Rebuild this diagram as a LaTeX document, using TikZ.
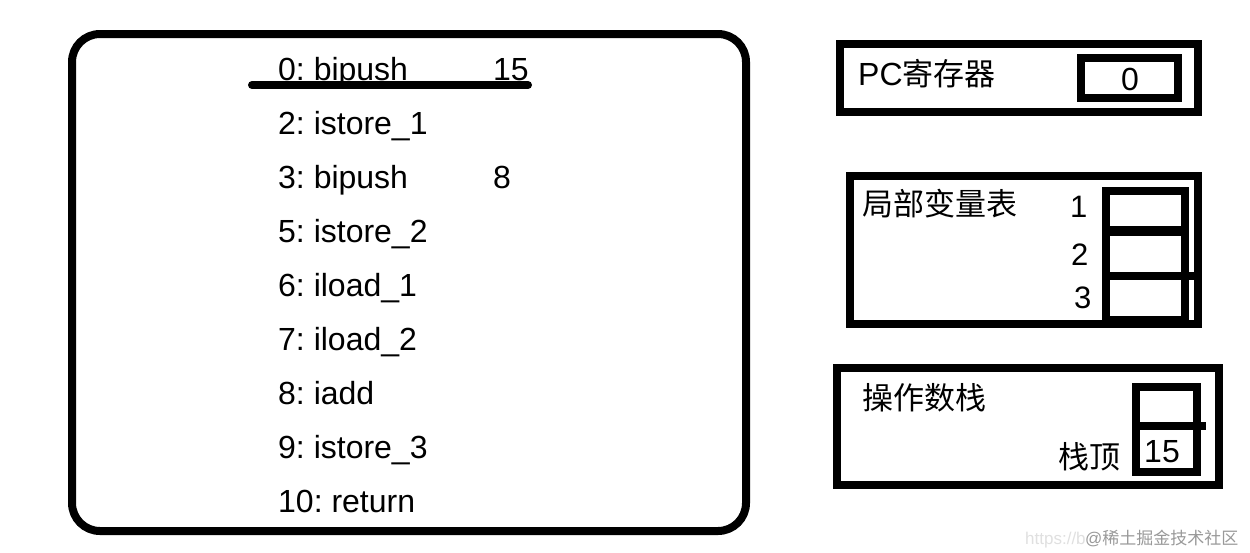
\documentclass[tikz,border=0pt]{standalone}
\usepackage{fontspec}
\setmainfont{Liberation Sans}
\newfontfamily\cjk{Noto Sans CJK SC}
\frenchspacing
\begin{document}
\begin{tikzpicture}[x=1pt,y=-1pt,
  frame/.style={draw=black,line width=8pt},
  thickline/.style={draw=black,line width=8pt},
  code/.style={anchor=base west,inner sep=0pt,font=\fontsize{32}{38}\selectfont},
  cjklbl/.style={anchor=base west,inner sep=0pt,font=\cjk\fontsize{31}{37}\selectfont},
  wmark/.style={anchor=base west,inner sep=0pt,font=\fontsize{17}{20}\selectfont}]
\useasboundingbox[fill=white] (0,0) rectangle (1250,552);

% main code frame
\draw[frame,rounded corners=28pt] (72,34) rectangle (746,531);
\node[code] (c0) at (278,80) {0: bipush};
\node[code] (c0v) at (493,80) {15};
\node[code] (c2) at (278,134) {2: istore\_1};
\node[code] (c3) at (278,188) {3: bipush};
\node[code] (c3v) at (493,188) {8};
\node[code] (c5) at (278,242) {5: istore\_2};
\node[code] (c6) at (278,296) {6: iload\_1};
\node[code] (c7) at (278,350) {7: iload\_2};
\node[code] (c8) at (278,404) {8: iadd};
\node[code] (c9) at (278,458) {9: istore\_3};
\node[code] (c10) at (278,512) {10: return};
\coordinate (ulA) at (252,85);
\coordinate (ulB) at (528,85);
\draw[line width=8pt,line cap=round] (ulA) -- (ulB);

% PC register
\draw[frame] (840,44) rectangle (1198,111.5);
\draw[frame] (1081,58) rectangle (1178,98);
\node[code] (pcl) at (858,85) {PC{\cjk\fontsize{31}{37}\selectfont 寄存器}};
\node[code,anchor=base] (pcv) at (1130,90) {0};

% local variable table
\draw[frame] (850,176) rectangle (1198,324);
\node[cjklbl] (lvt) at (862,215) {局部变量表};
\draw[thickline] (1106,191) rectangle (1184.5,320);
\draw[draw=black,line width=10pt] (1106,231) -- (1184.5,231);
\draw[thickline] (1106,275.5) -- (1198,275.5);
\node[code,font=\fontsize{31}{37}\selectfont] (lv1) at (1070,217) {1};
\node[code,font=\fontsize{31}{37}\selectfont] (lv2) at (1071,265) {2};
\node[code,font=\fontsize{31}{37}\selectfont] (lv3) at (1074,308) {3};

% operand stack
\draw[frame] (837,368) rectangle (1219,485);
\node[cjklbl] (ops) at (862,409) {操作数栈};
\draw[frame] (1136,387) rectangle (1197,472);
\draw[thickline] (1136,426) -- (1206,426);
\node[code,anchor=base] (top) at (1162,462) {15};
\node[cjklbl,anchor=base east] (toplbl) at (1121,468) {栈顶};

% watermark
\node[wmark,text=black!12] (wm1) at (1025,544) {https://bl};
\node[wmark,text=black!40,fill=white] (wm2) at (1085,544) {@{\cjk 稀土掘金技术社区}};
\end{tikzpicture}
\end{document}
